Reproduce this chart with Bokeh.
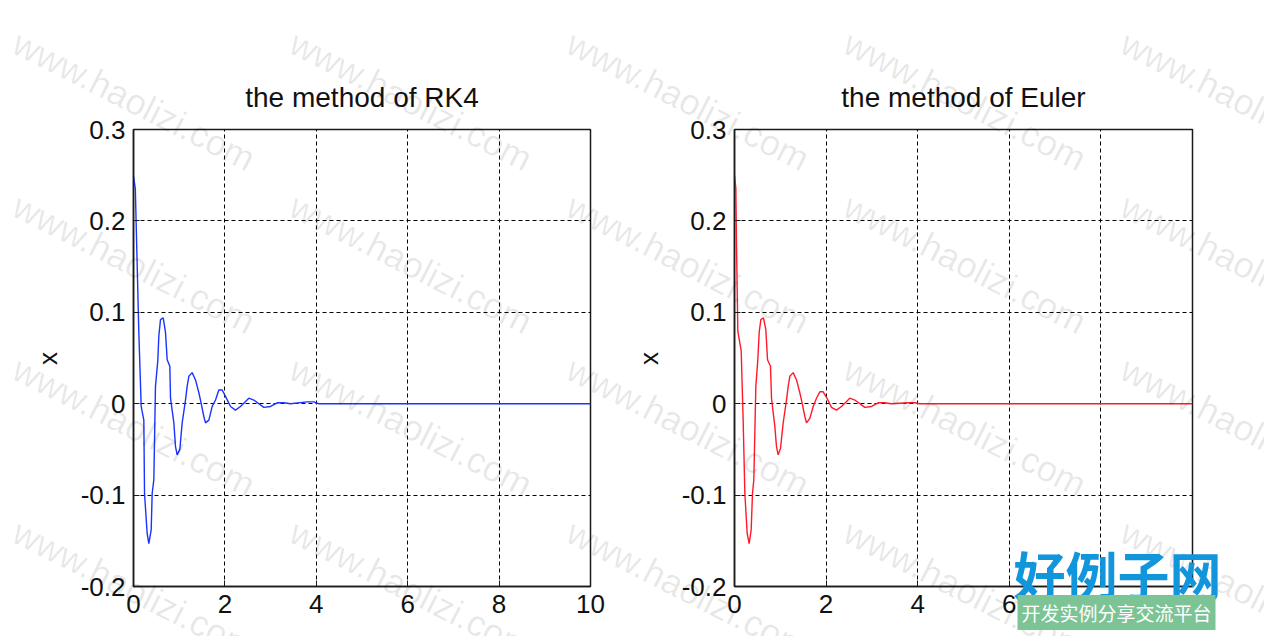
from bokeh.plotting import figure
from bokeh.models import Label, FixedTicker, Range1d, GridBox, Title
from bokeh.embed import file_html
from bokeh.resources import INLINE

# ---------------- data ----------------
titles = ["the method of RK4", "the method of Euler"]
x_axis_label = "t"
y_axis_label = "x"
x_ticks = [0, 2, 4, 6, 8, 10]
y_ticks = [-0.2, -0.1, 0, 0.1, 0.2, 0.3]
y_tick_labels = ["-0.2", "-0.1", "0", "0.1", "0.2", "0.3"]

t_rk4 = [0.0, 0.04, 0.116, 0.168, 0.226, 0.241, 0.299, 0.335, 0.387, 0.409,
         0.445, 0.481, 0.533, 0.554, 0.591, 0.650, 0.700, 0.737, 0.795, 0.810,
         0.883, 0.919, 0.956, 1.014, 1.065, 1.138, 1.174, 1.211, 1.284, 1.357,
         1.430, 1.466, 1.539, 1.576, 1.649, 1.722, 1.795, 1.867, 1.941, 2.013,
         2.123, 2.232, 2.341, 2.524, 2.633, 2.852, 2.998, 3.144, 3.289, 3.435,
         3.80, 3.945, 4.05, 10.0]
x_rk4 = [0.249, 0.235, 0.079, -0.003, -0.018, -0.098, -0.142, -0.153, -0.138, -0.098,
         -0.083, 0.019, 0.048, 0.074, 0.092, 0.094, 0.078, 0.048, 0.041, 0.006,
         -0.021, -0.047, -0.056, -0.050, -0.021, 0.004, 0.019, 0.030, 0.034, 0.026,
         0.012, 0.004, -0.014, -0.021, -0.018, -0.003, 0.004, 0.015, 0.015, 0.008,
         -0.003, -0.007, -0.003, 0.006, 0.004, -0.004, -0.003, 0.001, 0.001, 0.0,
         0.002, 0.002, 0.0, 0.0]

t_euler = [0.0, 0.029, 0.044, 0.073, 0.146, 0.189, 0.226, 0.277, 0.320, 0.364,
           0.393, 0.422, 0.466, 0.509, 0.539, 0.575, 0.633, 0.684, 0.721, 0.786,
           0.808, 0.881, 0.917, 0.953, 1.004, 1.063, 1.135, 1.172, 1.208, 1.281,
           1.354, 1.426, 1.463, 1.536, 1.572, 1.645, 1.718, 1.790, 1.863, 1.936,
           2.009, 2.118, 2.227, 2.336, 2.518, 2.627, 2.846, 2.991, 3.137, 3.282,
           3.428, 3.792, 3.937, 4.047, 10.0]
x_euler = [0.250, 0.236, 0.172, 0.079, 0.058, -0.018, -0.098, -0.142, -0.153, -0.138,
           -0.098, -0.083, 0.019, 0.048, 0.078, 0.092, 0.094, 0.081, 0.048, 0.041,
           0.006, -0.025, -0.047, -0.056, -0.049, -0.021, 0.004, 0.019, 0.030, 0.034,
           0.026, 0.012, 0.004, -0.014, -0.021, -0.016, -0.003, 0.006, 0.013, 0.013,
           0.007, -0.004, -0.007, -0.003, 0.006, 0.004, -0.004, -0.003, 0.001, 0.001,
           0.0, 0.001, 0.001, 0.0, 0.0]

series_t = [t_rk4, t_euler]
series_x = [x_rk4, x_euler]
line_colors = ["#1a33ff", "#ff1a2a"]

watermark_text = "www.haolizi.com"
logo_text = "好例子网"
logo_sub = "开发实例分享交流平台"

# ---------------- layout ----------------
FONT = "Liberation Sans"
TXT = "#111111"
FIG_W, FIG_H = 632, 636
TOP, BOTTOM = 129, 50
frames = [(133, 42), (102, 72)]          # (min_border_left, min_border_right)
wm_xs = [15, 292, 569, 846, 1123]
wm_ys = [40, 203, 366, 529]


def make(i):
    bl, br = frames[i]
    p = figure(width=FIG_W, height=FIG_H, output_backend="svg", toolbar_location=None,
               x_range=Range1d(0, 10), y_range=Range1d(-0.2, 0.3),
               min_border_left=bl, min_border_right=br,
               min_border_top=TOP, min_border_bottom=BOTTOM,
               background_fill_alpha=0, border_fill_alpha=0)
    p.title = Title(text=titles[i], align="center", text_font=FONT,
                    text_font_size="28px", text_font_style="normal",
                    text_color=TXT, standoff=33)
    p.line(series_t[i], series_x[i], line_color=line_colors[i], line_width=1.4)

    p.outline_line_color = "#1a1a1a"
    p.outline_line_width = 1.5
    p.outline_line_alpha = 1.0

    p.xaxis.ticker = FixedTicker(ticks=x_ticks)
    p.yaxis.ticker = FixedTicker(ticks=y_ticks)
    p.yaxis.major_label_overrides = {v: s for v, s in zip(y_ticks, y_tick_labels)}
    for ax in (p.xaxis, p.yaxis):
        ax.axis_line_color = "#1a1a1a"
        ax.axis_line_width = 1.5
        ax.major_tick_in = 6
        ax.major_tick_out = 0
        ax.major_tick_line_color = "#1a1a1a"
        ax.minor_tick_line_color = None
        ax.major_label_text_font = FONT
        ax.major_label_text_font_size = "26px"
        ax.major_label_text_color = TXT
    p.yaxis.major_label_standoff = 8
    p.xaxis.major_label_standoff = 8

    for g in (p.xgrid, p.ygrid):
        g.grid_line_color = "black"
        g.grid_line_alpha = 1.0
        g.grid_line_width = 1
        g.grid_line_dash = "4 3"
    return p


# transparent overlay covering the whole page: axis labels, watermark, logo
ov = figure(width=2 * FIG_W, height=FIG_H, output_backend="svg", toolbar_location=None,
            x_range=Range1d(0, 2 * FIG_W), y_range=Range1d(FIG_H, 0), min_border=0,
            background_fill_alpha=0, border_fill_alpha=0, outline_line_color=None)
ov.axis.visible = False
ov.grid.visible = False
ov.frame_align = False

for i in range(2):
    bl, br = frames[i]
    cx = i * FIG_W + bl + (FIG_W - bl - br) / 2
    ov.add_layout(Label(x=cx, y=645, x_units="canvas", y_units="canvas", text=x_axis_label,
                        text_align="center", text_baseline="alphabetic",
                        text_font=FONT, text_font_size="26px", text_color=TXT))
    ov.add_layout(Label(x=i * FIG_W + bl - 86, y=358, x_units="canvas", y_units="canvas",
                        text=y_axis_label, angle=1.5708,
                        text_align="center", text_baseline="middle",
                        text_font=FONT, text_font_size="26px", text_color=TXT))

for wx in wm_xs:
    for wy in wm_ys:
        ov.add_layout(Label(x=wx, y=wy, x_units="canvas", y_units="canvas",
                            text=watermark_text, angle=-0.47,
                            text_align="left", text_baseline="middle",
                            text_font=FONT, text_font_size="36px",
                            text_color="#000000", text_alpha=0.09))

ov.add_layout(Label(x=1013, y=573, x_units="canvas", y_units="canvas",
                    text=logo_text, text_align="left", text_baseline="middle",
                    text_font="Noto Sans CJK SC", text_font_style="bold",
                    text_font_size="52px", text_color="#1296db"))
ov.add_layout(Label(x=1017, y=612, x_units="canvas", y_units="canvas",
                    text=logo_sub, text_align="left", text_baseline="middle",
                    text_font="Noto Sans CJK SC", text_font_size="19px",
                    text_color="white", background_fill_color="#7cc396",
                    padding=4))

layout = GridBox(children=[(make(0), 0, 0), (make(1), 0, 1), (ov, 0, 0, 1, 2)])
open("out.html", "w").write(file_html(layout, INLINE))
